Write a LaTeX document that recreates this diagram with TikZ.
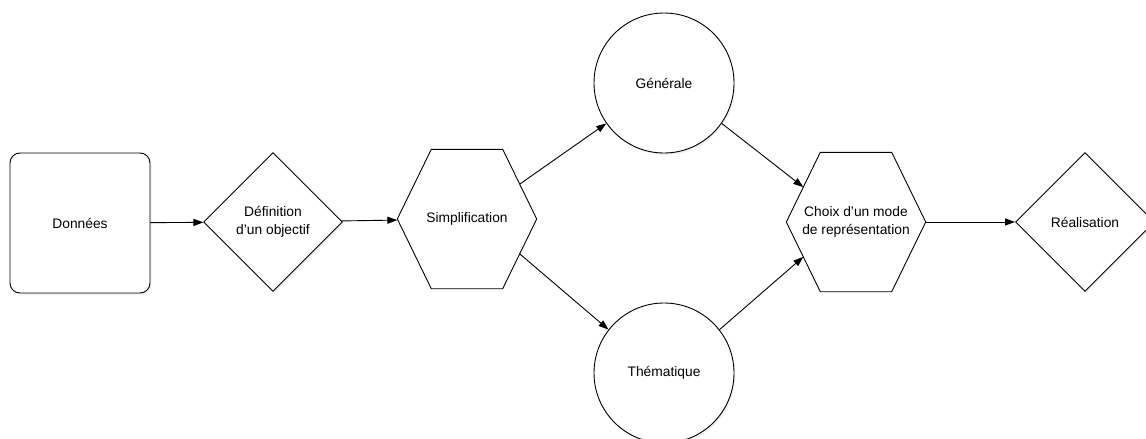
\documentclass[tikz,border=0pt]{standalone}
\usepackage{fontspec}
\setmainfont{Liberation Sans}
\usetikzlibrary{shapes,arrows.meta,positioning,calc,shadows}

\tikzset{
    base/.style={draw, line width=0.9pt, fill=white, align=center, inner sep=0pt,
        drop shadow={opacity=0.12, shadow xshift=1.5pt, shadow yshift=-2pt}},
    databox/.style={base, rectangle, rounded corners=10pt, minimum width=140pt, minimum height=140pt},
    decbox/.style={base, diamond, minimum width=139pt, minimum height=139pt},
    % hexagon drawn round a plain box
    hexbox/.style={rectangle, align=center, inner sep=0pt, minimum width=139pt, minimum height=139pt,
        append after command={\pgfextra{
            \draw[line width=0.9pt, line join=round]
                (\tikzlastnode.west) -- ($(\tikzlastnode.north west)+(34pt,0)$)
                -- ($(\tikzlastnode.north east)+(-34pt,0)$) -- (\tikzlastnode.east)
                -- ($(\tikzlastnode.south east)+(-34pt,0)$)
                -- ($(\tikzlastnode.south west)+(34pt,0)$) -- cycle;}}},
    roundbox/.style={base, circle, minimum size=140pt},
    link/.style={line width=0.9pt, -{Triangle[length=10pt,width=7pt]}}
}

\begin{document}
\begin{tikzpicture}[x=1pt, y=-1pt, font=\fontsize{13.8}{18.3}\selectfont]
    \useasboundingbox (0,0) rectangle (1146,439);

    \node[databox] (don) at (80,223) {Données};
    \node[decbox] (def) at (273,222) {Définition\\d’un objectif};
    \node[hexbox] (simp) at (467,219) {Simplification};
    \node[roundbox] (gen) at (664,83) {Générale};
    \node[roundbox] (them) at (664,373) {Thématique};
    \node[hexbox] (choix) at (856,222) {Choix d’un mode\\de représentation};
    \node[decbox] (real) at (1085,222) {Réalisation};

    \draw[link] (don) -- (def);
    \draw[link] (def) -- (simp);
    \draw[link] ($(simp.north east)!0.5!(simp.east)+(-17pt,0)$) -- (gen.215);
    \draw[link] ($(simp.south east)!0.5!(simp.east)+(-17pt,0)$) -- (them.142);
    \draw[link] (gen.-35) -- ($(choix.north west)!0.5!(choix.west)+(17pt,0)$);
    \draw[link] (them.38) -- ($(choix.south west)!0.5!(choix.west)+(17pt,0)$);
    \draw[link] (choix) -- (real);
\end{tikzpicture}
\end{document}
